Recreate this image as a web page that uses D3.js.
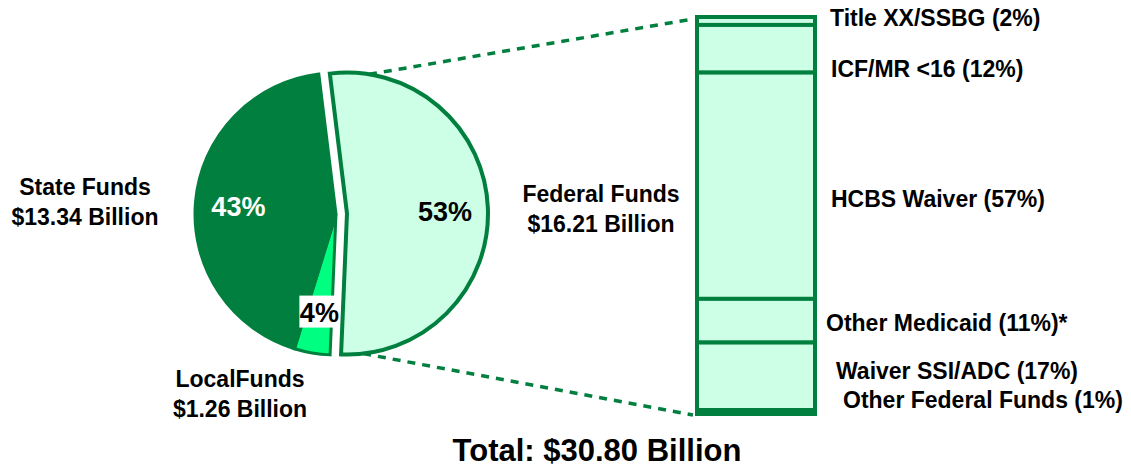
<!DOCTYPE html>
<html>
<head>
<meta charset="utf-8">
<script src="https://cdn.jsdelivr.net/npm/d3@7"></script>
<style>
  body { margin: 0; background: #fff; }
  svg { display: block; font-family: "Liberation Sans", Arial, sans-serif; font-weight: bold; }
</style>
</head>
<body>
<svg id="chart" width="1131" height="468"></svg>
<script>
// pie: sources of funds (billions)
const sources = ["Federal Funds", "LocalFunds", "State Funds"]
const sourceValues = [16.21, 1.26, 13.34]
const sourcePct = ["53%", "4%", "43%"]
const sourceAmount = ["$16.21 Billion", "$1.26 Billion", "$13.34 Billion"]

// bar: breakdown of federal funds (%)
const fedParts = ["Title XX/SSBG", "ICF/MR <16", "HCBS Waiver", "Other Medicaid", "Waiver SSI/ADC", "Other Federal Funds"]
const fedPct = [2, 12, 57, 11, 17, 1]
const fedSuffix = ["", "", "", "*", "", ""]

const totalLabel = "Total: $30.80 Billion"

const dark = "#007F3E", bright = "#00FF80", mint = "#CCFFE6"

const svg = d3.select("#chart")

// ---- pie ----
const cx = 336, cy = 214, r = 141, explode = 11
const start = -7 * Math.PI / 180
const pie = d3.pie().sort(null).startAngle(start).endAngle(start + 2 * Math.PI)
const arcs = pie(sourceValues)
const arc = d3.arc().innerRadius(0).outerRadius(r)
const labelArc = d3.arc().innerRadius(98).outerRadius(98)

function offset(d, i) {
  if (i !== 0) return [0, 0]
  const a = (d.startAngle + d.endAngle) / 2
  return [explode * Math.sin(a), -explode * Math.cos(a)]
}

const fills = [mint, bright, dark]

const pieG = svg.append("g").attr("transform", `translate(${cx},${cy})`)

pieG.selectAll("path").data(arcs).enter().append("path")
  .attr("transform", (d, i) => `translate(${offset(d, i)})`)
  .attr("d", arc)
  .attr("fill", (d, i) => fills[i])
  .attr("stroke", dark)
  .attr("stroke-width", (d, i) => i === 0 ? 4 : 3)

// percent labels, on top of all slices
arcs.forEach((d, i) => {
  const o = offset(d, i)
  const [x, y] = labelArc.centroid(d)
  const g = pieG.append("g").attr("transform", `translate(${x + o[0]},${y + o[1]})`)
  if (i === 1) {
    g.append("rect").attr("x", -20).attr("y", -15).attr("width", 40).attr("height", 32).attr("fill", "#fff")
  }
  g.append("text")
    .attr("y", 2)
    .attr("text-anchor", "middle")
    .attr("dominant-baseline", "central")
    .attr("font-size", 27)
    .attr("fill", i === 2 ? "#fff" : "#000")
    .text(sourcePct[i])
})

// ---- bar ----
const barX = 697, barW = 118
const y = d3.scaleLinear().domain([0, d3.sum(fedPct)]).range([17, 414])
const cum = d3.cumsum(fedPct)
const segs = fedPct.map((v, i) => ({ name: fedParts[i], v: v, y0: cum[i] - v, y1: cum[i] }))

svg.append("g").selectAll("rect").data(segs).enter().append("rect")
  .attr("x", barX).attr("width", barW)
  .attr("y", d => y(d.y0))
  .attr("height", d => y(d.y1) - y(d.y0))
  .attr("fill", mint)
  .attr("stroke", dark)
  .attr("stroke-width", 4)

// connectors
const fed = arcs[0], fo = offset(fed, 0)
function arcPt(a) { return [cx + fo[0] + r * Math.sin(a), cy + fo[1] - r * Math.cos(a)] }
const topPt = arcPt(fed.startAngle + 16 * Math.PI / 180)
const botPt = arcPt(fed.endAngle - 9 * Math.PI / 180)
svg.append("g").selectAll("line").data([[topPt, [barX - 4, y(0) + 2]], [botPt, [barX - 4, y(100) + 1]]])
  .enter().append("line")
  .attr("x1", d => d[0][0]).attr("y1", d => d[0][1])
  .attr("x2", d => d[1][0]).attr("y2", d => d[1][1])
  .attr("stroke", dark).attr("stroke-width", 3.5)
  .attr("stroke-dasharray", "8,7")

// bar labels
const labelDx = [13, 14, 14, 9, 19, 26]
const labelDy = [-3, 20, 13, 2, -5, -12]
svg.append("g").selectAll("text").data(segs).enter().append("text")
  .attr("x", (d, i) => barX + barW + 2 + labelDx[i])
  .attr("y", (d, i) => (y(d.y0) + y(d.y1)) / 2 + labelDy[i])
  .attr("dominant-baseline", "central")
  .attr("font-size", 23)
  .text((d, i) => `${d.name} (${d.v}%)${fedSuffix[i]}`)

// source labels
const srcPos = [[601, 202], [240, 387], [85, 195]]
sources.forEach((s, i) => {
  const t = svg.append("text")
    .attr("text-anchor", "middle")
    .attr("font-size", 23)
  t.append("tspan").attr("x", srcPos[i][0]).attr("y", srcPos[i][1]).text(s)
  t.append("tspan").attr("x", srcPos[i][0]).attr("y", srcPos[i][1] + 30).text(sourceAmount[i])
})

svg.append("text")
  .attr("x", 597).attr("y", 461)
  .attr("text-anchor", "middle")
  .attr("font-size", 31)
  .text(totalLabel)
</script>
</body>
</html>
